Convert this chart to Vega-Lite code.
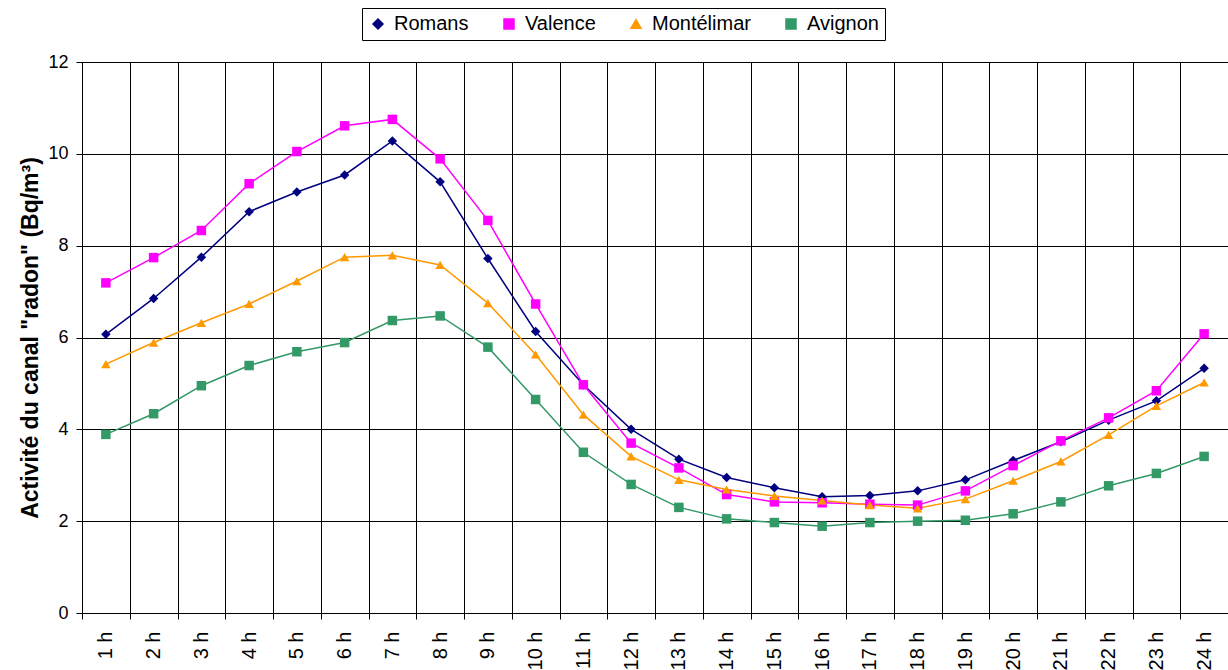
{
  "$schema": "https://vega.github.io/schema/vega-lite/v6.json",
  "width": 1146,
  "height": 551,
  "autosize": {"type": "none"},
  "padding": {"left": 82, "top": 62, "right": 0, "bottom": 57},
  "background": "white",
  "config": {
    "font": "Liberation Sans",
    "view": {"stroke": "#808080", "strokeWidth": 1}
  },
  "data": {
    "values": [
      {"h": 1, "hour": "1 h", "Romans": 6.07, "Valence": 7.19, "Montélimar": 5.42, "Avignon": 3.89},
      {"h": 2, "hour": "2 h", "Romans": 6.85, "Valence": 7.74, "Montélimar": 5.89, "Avignon": 4.34},
      {"h": 3, "hour": "3 h", "Romans": 7.75, "Valence": 8.33, "Montélimar": 6.32, "Avignon": 4.95},
      {"h": 4, "hour": "4 h", "Romans": 8.74, "Valence": 9.35, "Montélimar": 6.73, "Avignon": 5.39},
      {"h": 5, "hour": "5 h", "Romans": 9.17, "Valence": 10.05, "Montélimar": 7.23, "Avignon": 5.69},
      {"h": 6, "hour": "6 h", "Romans": 9.54, "Valence": 10.61, "Montélimar": 7.75, "Avignon": 5.89},
      {"h": 7, "hour": "7 h", "Romans": 10.28, "Valence": 10.75, "Montélimar": 7.79, "Avignon": 6.37},
      {"h": 8, "hour": "8 h", "Romans": 9.39, "Valence": 9.89, "Montélimar": 7.58, "Avignon": 6.47},
      {"h": 9, "hour": "9 h", "Romans": 7.72, "Valence": 8.55, "Montélimar": 6.75, "Avignon": 5.79},
      {"h": 10, "hour": "10 h", "Romans": 6.13, "Valence": 6.73, "Montélimar": 5.63, "Avignon": 4.65},
      {"h": 11, "hour": "11 h", "Romans": 4.97, "Valence": 4.97, "Montélimar": 4.32, "Avignon": 3.5},
      {"h": 12, "hour": "12 h", "Romans": 4.0, "Valence": 3.7, "Montélimar": 3.41, "Avignon": 2.8},
      {"h": 13, "hour": "13 h", "Romans": 3.35, "Valence": 3.16, "Montélimar": 2.9, "Avignon": 2.3},
      {"h": 14, "hour": "14 h", "Romans": 2.95, "Valence": 2.58, "Montélimar": 2.69, "Avignon": 2.05},
      {"h": 15, "hour": "15 h", "Romans": 2.73, "Valence": 2.42, "Montélimar": 2.55, "Avignon": 1.97},
      {"h": 16, "hour": "16 h", "Romans": 2.53, "Valence": 2.4, "Montélimar": 2.45, "Avignon": 1.89},
      {"h": 17, "hour": "17 h", "Romans": 2.56, "Valence": 2.37, "Montélimar": 2.35, "Avignon": 1.97},
      {"h": 18, "hour": "18 h", "Romans": 2.66, "Valence": 2.35, "Montélimar": 2.28, "Avignon": 2.0},
      {"h": 19, "hour": "19 h", "Romans": 2.9, "Valence": 2.66, "Montélimar": 2.48, "Avignon": 2.02},
      {"h": 20, "hour": "20 h", "Romans": 3.32, "Valence": 3.21, "Montélimar": 2.88, "Avignon": 2.16},
      {"h": 21, "hour": "21 h", "Romans": 3.73, "Valence": 3.75, "Montélimar": 3.3, "Avignon": 2.42},
      {"h": 22, "hour": "22 h", "Romans": 4.2, "Valence": 4.25, "Montélimar": 3.88, "Avignon": 2.77},
      {"h": 23, "hour": "23 h", "Romans": 4.62, "Valence": 4.84, "Montélimar": 4.51, "Avignon": 3.04},
      {"h": 24, "hour": "24 h", "Romans": 5.33, "Valence": 6.08, "Montélimar": 5.02, "Avignon": 3.41}
    ]
  },
  "transform": [
    {"fold": ["Romans", "Valence", "Montélimar", "Avignon"], "as": ["city", "value"]}
  ],
  "encoding": {
    "x": {
      "field": "hour",
      "type": "nominal",
      "sort": {"field": "h", "op": "min"},
      "scale": {"paddingInner": 0, "paddingOuter": 0},
      "axis": {
        "title": null,
        "labelAngle": -90,
        "labelFontSize": 20,
        "labelColor": "black",
        "labelPadding": 12,
        "tickBand": "extent",
        "tickSize": 6,
        "tickColor": "black",
        "domainColor": "black",
        "grid": true,
        "gridColor": "black",
        "gridWidth": 1,
        "gridOpacity": 1
      }
    },
    "y": {
      "field": "value",
      "type": "quantitative",
      "scale": {"domain": [0, 12], "nice": false},
      "axis": {
        "title": "Activité du canal \"radon\" (Bq/m³)",
        "titleFontSize": 23,
        "titleFontWeight": "bold",
        "titleColor": "black",
        "titlePadding": 5,
        "values": [0, 2, 4, 6, 8, 10, 12],
        "labelFontSize": 18,
        "labelColor": "black",
        "labelPadding": 8,
        "tickSize": 6,
        "tickColor": "black",
        "domainColor": "black",
        "grid": true,
        "gridColor": "black",
        "gridWidth": 1,
        "gridOpacity": 1
      }
    }
  },
  "layer": [
    {
      "mark": {"type": "line", "strokeWidth": 1.5},
      "encoding": {
        "order": {"field": "h", "type": "quantitative"},
        "color": {
          "field": "city",
          "type": "nominal",
          "scale": {
            "domain": ["Romans", "Valence", "Montélimar", "Avignon"],
            "range": ["#000080", "#FF00FF", "#FF9900", "#339966"]
          },
          "legend": {
            "title": null,
            "orient": "none",
            "direction": "horizontal",
            "legendX": 280,
            "legendY": -54,
            "strokeColor": "black",
            "fillColor": "white",
            "padding": 6,
            "labelFontSize": 20,
            "labelColor": "black",
            "labelOffset": 6,
            "columnPadding": 30,
            "symbolSize": 100,
            "symbolStrokeWidth": 1.5,
            "symbolOpacity": 1
          }
        }
      }
    },
    {
      "mark": {"type": "point", "filled": true, "opacity": 1, "size": 90},
      "encoding": {
        "color": {"field": "city", "type": "nominal", "legend": null},
        "shape": {
          "field": "city",
          "type": "nominal",
          "scale": {
            "domain": ["Romans", "Valence", "Montélimar", "Avignon"],
            "range": ["diamond", "square", "triangle-up", "square"]
          },
          "legend": null
        }
      }
    }
  ]
}
